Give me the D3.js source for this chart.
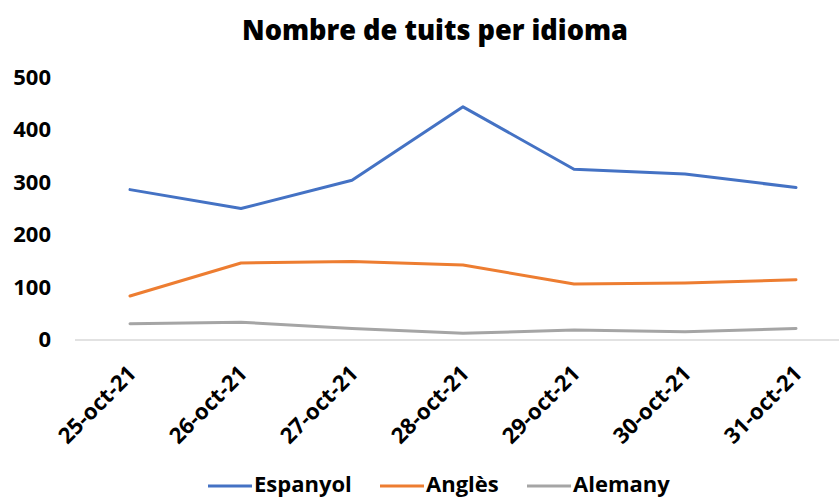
<!DOCTYPE html>
<html>
<head>
<meta charset="utf-8">
<script src="https://cdn.jsdelivr.net/npm/d3@7/dist/d3.min.js"></script>
<style>
  html, body { margin: 0; padding: 0; background: #fff; }
  svg { display: block; font-family: "Open Sans", sans-serif; }
</style>
</head>
<body>
<svg id="chart" width="839" height="498"></svg>
<script>
const title = "Nombre de tuits per idioma";
const categories = ["25-oct-21", "26-oct-21", "27-oct-21", "28-oct-21", "29-oct-21", "30-oct-21", "31-oct-21"];
const seriesNames = ["Espanyol", "Anglès", "Alemany"];
const espanyol = [286, 250, 304, 444, 325, 316, 290];
const angles = [83, 146, 149, 142, 106, 108, 114];
const alemany = [30, 33, 21, 12, 18, 15, 21];
const yTicks = [0, 100, 200, 300, 400, 500];
const colors = ["#4472C4", "#ED7D31", "#A5A5A5"];

const series = [espanyol, angles, alemany].map((vals, i) => ({ name: seriesNames[i], values: vals, color: colors[i] }));

const svg = d3.select("#chart");
const x = d3.scaleBand().domain(categories).range([74.5, 851.5]);
const y = d3.scaleLinear().domain([0, 500]).range([339.5, 77.5]);

// Title
svg.append("text")
  .attr("x", 435).attr("y", 40)
  .attr("text-anchor", "middle")
  .attr("font-size", 28).attr("font-weight", 800)
  .attr("textLength", 386).attr("lengthAdjust", "spacingAndGlyphs")
  .attr("fill", "#000")
  .text(title);

// Y axis labels
const yAxis = d3.axisLeft(y).tickValues(yTicks).tickSize(0).tickPadding(0);
const gy = svg.append("g").attr("transform", "translate(51,0)").call(yAxis);
gy.select(".domain").remove();
gy.selectAll("text").attr("font-size", 22).attr("font-weight", 700)
  .attr("font-family", "Open Sans, sans-serif").attr("fill", "#000");

// X axis
const xAxis = d3.axisBottom(x).tickSize(0).tickPadding(0);
const gx = svg.append("g").attr("transform", `translate(0,${y(0)})`).call(xAxis);
gx.select(".domain").attr("stroke", "#D9D9D9").attr("stroke-width", 1.5);
gx.selectAll("text")
  .attr("font-size", 22).attr("font-weight", 700)
  .attr("font-family", "Open Sans, sans-serif").attr("fill", "#000")
  .attr("text-anchor", "end")
  .attr("dy", "0.35em")
  .attr("transform", "translate(2,30) rotate(-45)");

// Lines
const line = d3.line().x((d, i) => x(categories[i]) + x.bandwidth() / 2).y(d => y(d));
svg.append("g").selectAll("path").data(series).join("path")
  .attr("d", d => line(d.values))
  .attr("fill", "none")
  .attr("stroke", d => d.color)
  .attr("stroke-width", 3)
  .attr("stroke-linejoin", "round")
  .attr("stroke-linecap", "round");

// Legend
const legendX = [208, 380, 527];
const lg = svg.append("g").selectAll("g").data(series).join("g")
  .attr("transform", (d, i) => `translate(${legendX[i]},0)`);
lg.append("line").attr("x1", 0).attr("x2", 44).attr("y1", 486).attr("y2", 486)
  .attr("stroke", d => d.color).attr("stroke-width", 3);
lg.append("text").attr("x", 46).attr("y", 492)
  .attr("font-size", 22).attr("font-weight", 700).attr("fill", "#000")
  .text(d => d.name);
</script>
</body>
</html>
